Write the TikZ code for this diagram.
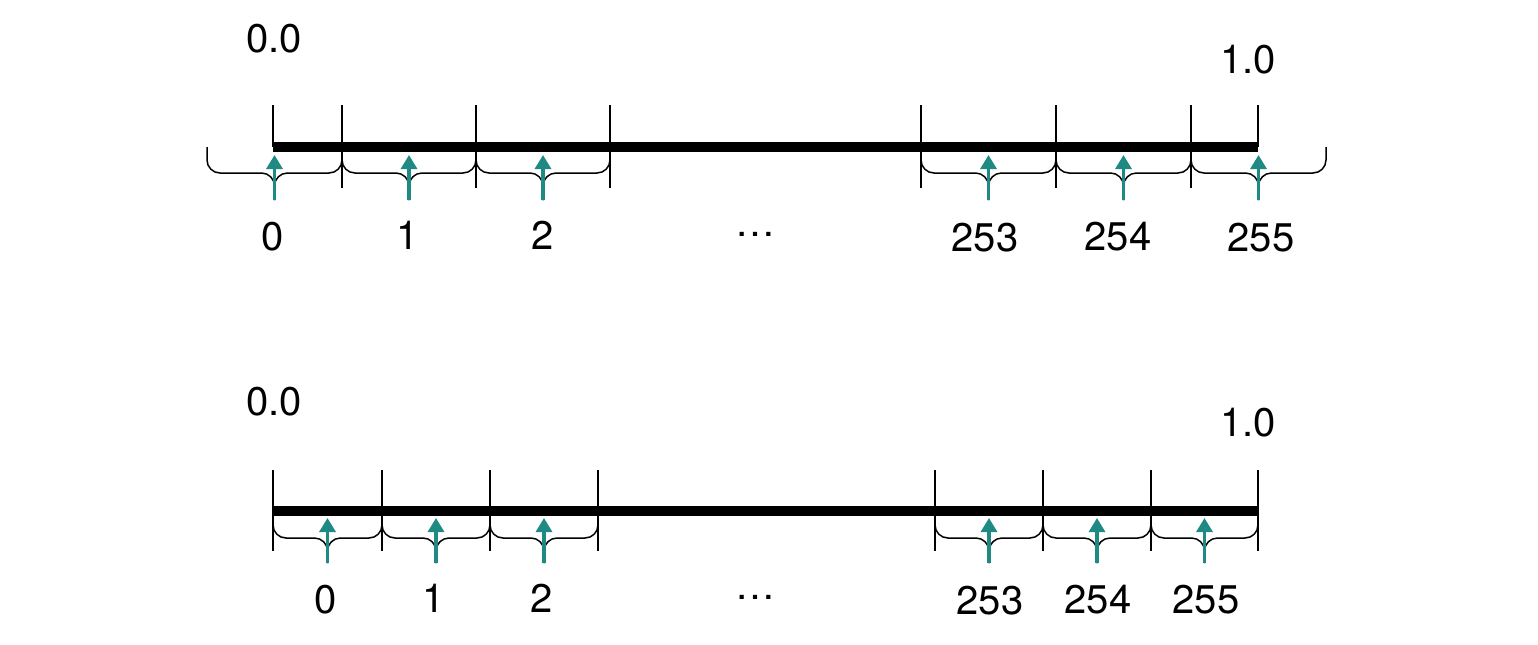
\documentclass[tikz,border=0pt]{standalone}
\usepackage{fontspec}
\setmainfont{TeX Gyre Heros}
\usetikzlibrary{arrows.meta}
\definecolor{arrteal}{RGB}{31,138,132}
\tikzset{
  bar/.style={line width=5pt, line cap=butt},
  tickline/.style={line width=0.75pt},
  bracestyle/.style={line width=0.75pt, rounded corners=6.5pt},
  arr/.style={draw=arrteal, line width=1.6pt, -{Triangle[length=7pt,width=8pt,fill=arrteal]}},
  lbl/.style={font=\fontsize{20}{22}\selectfont, anchor=base, inner sep=0pt}
}
\begin{document}
\begin{tikzpicture}[x=0.5pt,y=-0.5pt]
\useasboundingbox (0,0) rectangle (1538,644);

% ---------- top row ----------
\coordinate (A0) at (273,147);
\coordinate (A1) at (1258,147);
\draw[bar] (A0) -- (A1);
\coordinate (Ae0t) at (273,105);
\coordinate (Ae1t) at (1258,105);
\draw[tickline] (Ae0t) -- (A0);
\draw[tickline] (Ae1t) -- (A1);
\foreach \x [count=\i] in {342,476,610,921,1056,1191} {
  \coordinate (at\i) at (\x,105);
  \coordinate (ab\i) at (\x,188);
  \draw[tickline] (at\i) -- (ab\i);
}
\foreach \a/\b [count=\n] in {207/342,342/476,476/610,921/1056,1056/1191,1191/1326} {
  \pgfmathsetmacro\c{(\a+\b)/2}
  \draw[bracestyle] (\a,147) -- (\a,173) -- (\c,173) -- (\c,200);
  \draw[bracestyle] (\b,147) -- (\b,173) -- (\c,173) -- (\c,200);
  \coordinate (ut\n) at (\c,200);
  \coordinate (uh\n) at (\c,155);
  \draw[arr] (ut\n) -- (uh\n);
}
\node[lbl] (tz) at (274,52) {0.0};
\node[lbl] (to) at (1248,73) {1.0};
\node[lbl] (l0) at (273,250) {0};
\node[lbl] (l1) at (408,249) {1};
\node[lbl] (l2) at (543,249) {2};
\node[lbl] (ld) at (755,236) {…};
\node[lbl] (l253) at (985,251) {253};
\node[lbl] (l254) at (1118,250) {254};
\node[lbl] (l255) at (1261,251) {255};

% ---------- bottom row ----------
\coordinate (B0) at (273,511);
\coordinate (B1) at (1258,511);
\draw[bar] (B0) -- (B1);
\foreach \x [count=\i] in {273,382,490,598,935,1043,1151,1258} {
  \coordinate (bt\i) at (\x,470);
  \coordinate (bb\i) at (\x,551);
  \draw[tickline] (bt\i) -- (bb\i);
}
\foreach \a/\b [count=\n] in {273/382,382/490,490/598,935/1043,1043/1151,1151/1258} {
  \pgfmathsetmacro\c{(\a+\b)/2}
  \draw[bracestyle] (\a,511) -- (\a,538) -- (\c,538) -- (\c,563);
  \draw[bracestyle] (\b,511) -- (\b,538) -- (\c,538) -- (\c,563);
  \coordinate (vt\n) at (\c,563);
  \coordinate (vh\n) at (\c,518);
  \draw[arr] (vt\n) -- (vh\n);
}
\node[lbl] (bz) at (274,415) {0.0};
\node[lbl] (bo) at (1248,436) {1.0};
\node[lbl] (m0) at (326,613) {0};
\node[lbl] (m1) at (434,612) {1};
\node[lbl] (m2) at (542,612) {2};
\node[lbl] (md) at (755,599) {…};
\node[lbl] (m253) at (990,614) {253};
\node[lbl] (m254) at (1098,613) {254};
\node[lbl] (m255) at (1206,613) {255};
\end{tikzpicture}
\end{document}
